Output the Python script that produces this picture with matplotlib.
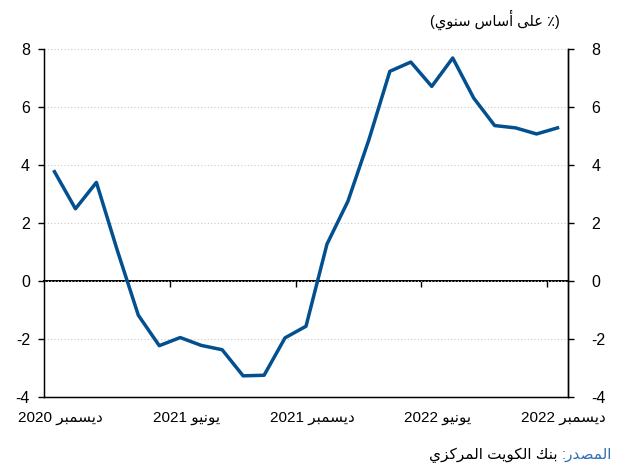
import matplotlib
matplotlib.use("Agg")
import matplotlib.pyplot as plt

plt.rcParams['font.family'] = ['Liberation Sans', 'DejaVu Sans']
plt.rcParams['axes.unicode_minus'] = False

# monthly, Dec 2020 .. Dec 2022 (% y/y)
values = [3.77, 2.49, 3.40, 1.05, -1.18, -2.23, -1.95, -2.22, -2.37, -3.27, -3.25,
          -1.96, -1.56, 1.27, 2.75, 4.87, 7.23, 7.55, 6.71, 7.69, 6.31, 5.36, 5.28,
          5.07, 5.28]
month_words = ['ديسمبر', 'يونيو', 'ديسمبر', 'يونيو', 'ديسمبر']
years = ['2020', '2021', '2021', '2022', '2022']
title_ar = '٪ على أساس سنوي'
source_head = 'المصدر:'
source_body = 'بنك الكويت المركزي'


# minimal arabic shaping (matplotlib has no bidi / joining)
def _four(b):
    return tuple(chr(b + k) for k in range(4))


def _two(b):
    return (chr(b), chr(b + 1), None, None)


AR = {'آ': _two(0xFE81), 'أ': _two(0xFE83), 'إ': _two(0xFE87), 'ا': _two(0xFE8D),
      'ب': _four(0xFE8F), 'ة': _two(0xFE93), 'ت': _four(0xFE95), 'ث': _four(0xFE99),
      'ج': _four(0xFE9D), 'ح': _four(0xFEA1), 'خ': _four(0xFEA5), 'د': _two(0xFEA9),
      'ذ': _two(0xFEAB), 'ر': _two(0xFEAD), 'ز': _two(0xFEAF), 'س': _four(0xFEB1),
      'ش': _four(0xFEB5), 'ص': _four(0xFEB9), 'ض': _four(0xFEBD), 'ط': _four(0xFEC1),
      'ظ': _four(0xFEC5), 'ع': _four(0xFEC9), 'غ': _four(0xFECD), 'ف': _four(0xFED1),
      'ق': _four(0xFED5), 'ك': _four(0xFED9), 'ل': _four(0xFEDD), 'م': _four(0xFEE1),
      'ن': _four(0xFEE5), 'ه': _four(0xFEE9), 'و': _two(0xFEED), 'ى': _two(0xFEEF),
      'ي': _four(0xFEF1)}


def rtl(text):
    out = []
    for i, c in enumerate(text):
        f = AR.get(c)
        if f is None:
            out.append(c)
            continue
        prev = text[i - 1] if i > 0 else ''
        nxt = text[i + 1] if i < len(text) - 1 else ''
        jp = prev in AR and AR[prev][2] is not None
        jn = nxt in AR and f[2] is not None
        out.append(f[3] if jp and jn else f[1] if jp else f[2] if jn else f[0])
    return ''.join(out)[::-1]


idx = list(range(len(values)))
ymin, ymax = -4, 8

fig = plt.figure(figsize=(6.18, 4.63), dpi=100)
ax = fig.add_axes([44 / 618, 1 - 397 / 463, 524 / 618, 348 / 463])

ax.plot(idx, values, color='#02508f', lw=2.5, zorder=3)

ax.set_xlim(-0.5, len(values) - 0.5)
ax.set_ylim(ymin, ymax)
ax.set_yticks(range(ymin, ymax + 1, 2))
ax.yaxis.grid(True, color='#c8c8c8', lw=0.8, linestyle=(0, (1, 2)))
ax.set_axisbelow(True)

ax.spines['top'].set_visible(False)
for s in ['left', 'right', 'bottom']:
    ax.spines[s].set_linewidth(1.0)
ax.tick_params(axis='y', direction='out', length=4, width=1.0, labelsize=11.5, pad=6)

# right hand scale (same values)
axr = ax.twinx()
axr.set_ylim(ymin, ymax)
axr.set_yticks(range(ymin, ymax + 1, 2))
axr.spines['top'].set_visible(False)
axr.spines['right'].set_linewidth(1.0)
axr.tick_params(axis='y', direction='out', length=4, width=1.0, labelsize=11.5, pad=13)

# category labels under the frame
lab_pos = [i + 0.3 for i in range(0, len(values), 6)]
ax.set_xticks(lab_pos, [y + ' ' + rtl(m) for y, m in zip(years, month_words)])
ax.tick_params(axis='x', length=0, labelsize=11, pad=10)

# zero line with category-boundary ticks
zero = ax.secondary_xaxis((0 - ymin) / (ymax - ymin))
zero.set_xticks([i + 0.5 for i in range(5, len(values) - 1, 6)])
zero.tick_params(length=4, width=1.0, direction='out', labelbottom=False, labeltop=False)
zero.spines['bottom'].set_linewidth(1.4)

fig.text(560 / 618, 1 - 20 / 463, '(' + rtl(title_ar) + ')', ha='right', va='center',
         fontsize=10.5)
head = fig.text(612 / 618, 1 - 455 / 463, rtl(source_head), ha='right', va='center',
                fontsize=11, color='#2f6db5')
ax.annotate(rtl(source_body) + ' ', xy=(0, 0.5), xycoords=head, ha='right', va='center',
            fontsize=11, color='black')

fig.savefig('out.png', dpi=100)
